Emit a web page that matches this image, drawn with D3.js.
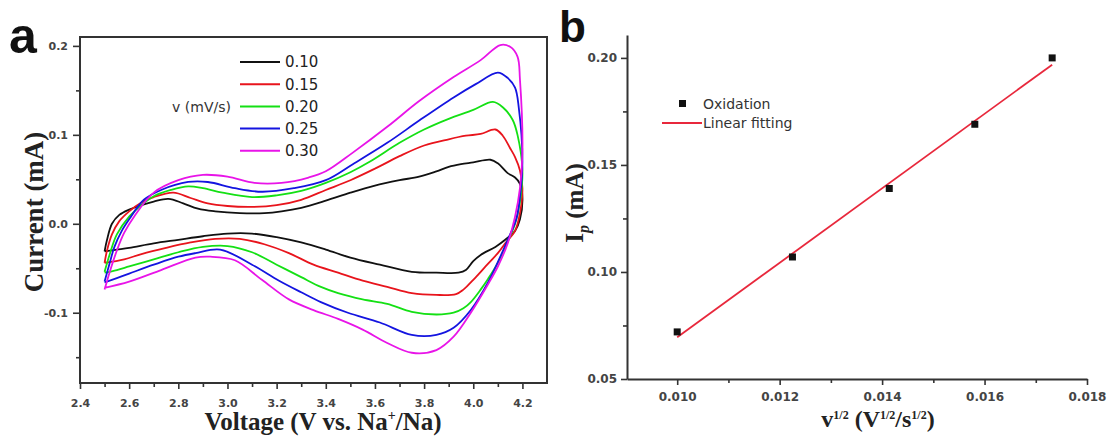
<!DOCTYPE html>
<html>
<head>
<meta charset="utf-8">
<script src="https://cdn.jsdelivr.net/npm/d3@7"></script>
<style>
body{margin:0;background:#fff;}
svg{display:block;}
</style>
</head>
<body>
<svg id="chart" width="1110" height="441"></svg>
<script>
//---Data: panel a, cyclic voltammograms [voltage (V), current (mA)]---
var scanRates = ["0.10","0.15","0.20","0.25","0.30"];
var scanColors = ["#111111","#e8141c","#14e014","#1414e0","#e814e8"];

var cv010 = [[2.50,-0.031],[2.51,-0.018],[2.53,0.000],[2.56,0.010],[2.60,0.016],[2.65,0.021],[2.70,0.025],[2.76,0.028],[2.82,0.023],[2.88,0.017],[2.95,0.014],[3.05,0.012],[3.15,0.012],[3.22,0.014],[3.30,0.018],[3.40,0.026],[3.50,0.035],[3.60,0.043],[3.70,0.049],[3.78,0.053],[3.85,0.059],[3.90,0.064],[3.95,0.067],[4.00,0.069],[4.07,0.072],[4.10,0.068],[4.14,0.057],[4.17,0.052],[4.19,0.045],[4.20,0.030],
  [4.19,0.005],[4.17,-0.008],[4.13,-0.018],[4.09,-0.026],[4.03,-0.035],[4.00,-0.042],[3.97,-0.052],[3.94,-0.055],[3.85,-0.055],[3.75,-0.054],[3.62,-0.046],[3.50,-0.038],[3.40,-0.029],[3.30,-0.021],[3.20,-0.015],[3.10,-0.011],[3.00,-0.011],[2.90,-0.014],[2.80,-0.018],[2.70,-0.022],[2.60,-0.027],[2.55,-0.029],[2.50,-0.031]];

var cv015 = [[2.50,-0.044],[2.51,-0.030],[2.53,-0.012],[2.56,0.003],[2.60,0.014],[2.65,0.024],[2.70,0.030],[2.78,0.035],[2.85,0.029],[2.92,0.023],[3.00,0.020],[3.10,0.019],[3.20,0.021],[3.30,0.027],[3.40,0.038],[3.50,0.049],[3.60,0.062],[3.70,0.076],[3.80,0.088],[3.90,0.095],[3.97,0.099],[4.03,0.101],[4.09,0.106],[4.12,0.099],[4.15,0.085],[4.17,0.075],[4.19,0.060],[4.20,0.040],
  [4.19,0.012],[4.17,-0.008],[4.13,-0.022],[4.10,-0.033],[4.05,-0.048],[4.00,-0.063],[3.96,-0.074],[3.93,-0.079],[3.85,-0.080],[3.75,-0.078],[3.65,-0.071],[3.55,-0.064],[3.45,-0.055],[3.35,-0.046],[3.25,-0.033],[3.15,-0.023],[3.05,-0.017],[2.95,-0.017],[2.85,-0.021],[2.75,-0.027],[2.65,-0.034],[2.58,-0.040],[2.50,-0.044]];

var cv020 = [[2.50,-0.054],[2.52,-0.035],[2.55,-0.012],[2.60,0.008],[2.65,0.021],[2.70,0.031],[2.77,0.038],[2.84,0.042],[2.90,0.040],[2.98,0.035],[3.10,0.030],[3.20,0.032],[3.30,0.037],[3.40,0.046],[3.50,0.058],[3.58,0.070],[3.70,0.091],[3.80,0.106],[3.90,0.118],[4.00,0.128],[4.08,0.137],[4.12,0.131],[4.16,0.117],[4.18,0.100],[4.20,0.060],
  [4.19,0.025],[4.17,0.000],[4.14,-0.020],[4.10,-0.044],[4.06,-0.062],[4.03,-0.074],[3.99,-0.088],[3.96,-0.095],[3.92,-0.100],[3.85,-0.102],[3.75,-0.099],[3.65,-0.090],[3.55,-0.085],[3.45,-0.078],[3.38,-0.071],[3.30,-0.060],[3.20,-0.046],[3.10,-0.032],[3.00,-0.025],[2.90,-0.026],[2.80,-0.032],[2.70,-0.040],[2.60,-0.048],[2.55,-0.052],[2.50,-0.055]];

var cv025 = [[2.50,-0.065],[2.52,-0.045],[2.54,-0.026],[2.57,-0.008],[2.60,0.005],[2.66,0.027],[2.73,0.038],[2.84,0.047],[2.92,0.047],[3.03,0.040],[3.14,0.036],[3.27,0.040],[3.40,0.049],[3.51,0.067],[3.65,0.091],[3.78,0.116],[3.92,0.142],[4.01,0.157],[4.10,0.170],[4.14,0.164],[4.17,0.153],[4.185,0.131],[4.20,0.070],
  [4.19,0.030],[4.175,0.005],[4.15,-0.012],[4.11,-0.037],[4.06,-0.066],[3.99,-0.097],[3.92,-0.117],[3.85,-0.125],[3.75,-0.125],[3.62,-0.111],[3.49,-0.100],[3.38,-0.088],[3.30,-0.077],[3.21,-0.064],[3.10,-0.046],[2.97,-0.029],[2.87,-0.033],[2.80,-0.037],[2.70,-0.046],[2.60,-0.056],[2.55,-0.061],[2.50,-0.066]];

var cv030 = [[2.50,-0.074],[2.52,-0.055],[2.55,-0.030],[2.58,-0.010],[2.62,0.008],[2.70,0.035],[2.80,0.049],[2.90,0.055],[3.00,0.053],[3.11,0.046],[3.22,0.046],[3.33,0.052],[3.40,0.059],[3.51,0.080],[3.65,0.109],[3.78,0.138],[3.92,0.165],[4.03,0.184],[4.11,0.201],[4.15,0.199],[4.18,0.188],[4.19,0.162],[4.20,0.080],
  [4.19,0.040],[4.17,0.008],[4.14,-0.022],[4.10,-0.048],[4.06,-0.068],[3.99,-0.100],[3.92,-0.127],[3.85,-0.142],[3.75,-0.145],[3.65,-0.134],[3.55,-0.119],[3.45,-0.107],[3.35,-0.097],[3.25,-0.085],[3.14,-0.063],[3.03,-0.041],[2.93,-0.037],[2.87,-0.038],[2.73,-0.052],[2.60,-0.065],[2.50,-0.072]];

var cvCurves = [cv010, cv015, cv020, cv025, cv030];

//Tick values panel a
var aXMajor = [2.4,2.6,2.8,3.0,3.2,3.4,3.6,3.8,4.0,4.2];
var aXMinor = [2.5,2.7,2.9,3.1,3.3,3.5,3.7,3.9,4.1];
var aYMajor = [-0.1,0.0,0.1,0.2];
var aYMinor = [-0.15,-0.05,0.05,0.15];

//---Data: panel b, peak current vs sqrt(scan rate)---
var sqrtRate = [0.0100,0.01225,0.01414,0.01581,0.01732];
var peakCurrent = [0.072,0.107,0.139,0.169,0.200];

//Tick values panel b
var bXMajor = [0.010,0.012,0.014,0.016,0.018];
var bXMinor = [0.011,0.013,0.015,0.017];
var bYMajor = [0.05,0.10,0.15,0.20];
var bYMinor = [0.075,0.125,0.175];

//---Setup---
var svg = d3.select("#chart");
var axisColor = "#333";
var tickFont = "'DejaVu Sans', sans-serif";
var serifFont = "'Liberation Serif', 'Times New Roman', serif";

//styleAxis: common tick styling
function styleAxis(g, size){
  g.selectAll("path.domain").attr("stroke", axisColor).attr("stroke-width", 2);
  g.selectAll(".tick line").attr("stroke", axisColor).attr("stroke-width", 1.6);
  g.selectAll(".tick text").attr("fill", "#444").style("font-family", tickFont)
    .style("font-weight", "bold").style("font-size", size + "px");
}

//=============== Panel a ===============
var ax = d3.scaleLinear().domain([2.4, 4.3]).range([80, 547]);
var ay = d3.scaleLinear().domain([-0.179, 0.21]).range([383, 37]);

//bottom axis
svg.append("g").attr("transform", "translate(0,383)")
  .call(d3.axisBottom(ax).tickValues(aXMinor).tickFormat("").tickSize(4).tickSizeOuter(0))
  .call(function(g){ g.select(".domain").remove(); styleAxis(g, 11); });
svg.append("g").attr("transform", "translate(0,383)")
  .call(d3.axisBottom(ax).tickValues(aXMajor).tickFormat(function(d){return d.toFixed(1);}).tickSize(6).tickPadding(10).tickSizeOuter(0))
  .call(function(g){ g.select(".domain").remove(); styleAxis(g, 11); });

//left axis
svg.append("g").attr("transform", "translate(80,0)")
  .call(d3.axisLeft(ay).tickValues(aYMinor).tickFormat("").tickSize(4).tickSizeOuter(0))
  .call(function(g){ g.select(".domain").remove(); styleAxis(g, 11); });
svg.append("g").attr("transform", "translate(80,0)")
  .call(d3.axisLeft(ay).tickValues(aYMajor).tickFormat(function(d){return d.toFixed(1);}).tickSize(7).tickPadding(5).tickSizeOuter(0))
  .call(function(g){ g.select(".domain").remove(); styleAxis(g, 11); });

//curves
var cvLine = d3.line()
  .x(function(d){return ax(d[0]);})
  .y(function(d){return ay(d[1]);})
  .curve(d3.curveCatmullRom.alpha(0.5));

svg.append("g").selectAll("path").data(cvCurves).enter().append("path")
  .attr("d", cvLine)
  .attr("fill", "none")
  .attr("stroke", function(d,i){return scanColors[i];})
  .attr("stroke-width", 1.8)
  .attr("stroke-linejoin", "round");

//frame
svg.append("rect").attr("x", ax(2.4)).attr("y", ay(0.21))
  .attr("width", ax(4.3) - ax(2.4)).attr("height", ay(-0.179) - ay(0.21))
  .attr("fill", "none").attr("stroke", axisColor).attr("stroke-width", 2);

//legend a
var legA = svg.append("g").selectAll("g").data(scanRates).enter().append("g")
  .attr("transform", function(d,i){return "translate(240," + (62 + i*22.2) + ")";});
legA.append("line").attr("x1", 0).attr("x2", 40)
  .attr("stroke", function(d,i){return scanColors[i];}).attr("stroke-width", 2);
legA.append("text").attr("x", 45).attr("dy", "0.36em").text(function(d){return d;})
  .style("font-family", tickFont).style("font-size", "15px").attr("fill", "#222");
svg.append("text").attr("x", 231).attr("y", 107).attr("dy", "0.36em")
  .attr("text-anchor", "end").text("v (mV/s)")
  .style("font-family", tickFont).style("font-size", "14px").attr("fill", "#333");

//axis labels a
var xlabA = svg.append("text").attr("x", 323).attr("y", 430).attr("text-anchor", "middle")
  .style("font-family", serifFont).style("font-weight", "bold").style("font-size", "25px").attr("fill", "#222");
xlabA.append("tspan").text("Voltage (V vs. Na");
xlabA.append("tspan").attr("dy", -10).style("font-size", "14px").text("+");
xlabA.append("tspan").attr("dy", 10).text("/Na)");

svg.append("text").attr("transform", "translate(43,212) rotate(-90)").attr("text-anchor", "middle")
  .style("font-family", serifFont).style("font-weight", "bold").style("font-size", "27px").attr("fill", "#222")
  .text("Current (mA)");

svg.append("text").attr("x", 9).attr("y", 53).text("a")
  .style("font-family", "'Liberation Sans', Arial, sans-serif").style("font-weight", "bold").style("font-size", "50px").attr("fill", "#111");

//=============== Panel b ===============
var bx = d3.scaleLinear().domain([0.00902, 0.018]).range([627, 1087]);
var by = d3.scaleLinear().domain([0.05, 0.2107]).range([379, 35]);

svg.append("g").attr("transform", "translate(0,379)")
  .call(d3.axisBottom(bx).tickValues(bXMinor).tickFormat("").tickSize(4).tickSizeOuter(0))
  .call(function(g){ g.select(".domain").remove(); styleAxis(g, 12); });
svg.append("g").attr("transform", "translate(0,379)")
  .call(d3.axisBottom(bx).tickValues(bXMajor).tickFormat(function(d){return d.toFixed(3);}).tickSize(6).tickPadding(7).tickSizeOuter(0))
  .call(function(g){ styleAxis(g, 12); });

svg.append("g").attr("transform", "translate(627,0)")
  .call(d3.axisLeft(by).tickValues(bYMinor).tickFormat("").tickSize(4).tickSizeOuter(0))
  .call(function(g){ g.select(".domain").remove(); styleAxis(g, 12); });
svg.append("g").attr("transform", "translate(627,0)")
  .call(d3.axisLeft(by).tickValues(bYMajor).tickFormat(function(d){return d.toFixed(2);}).tickSize(6).tickPadding(4).tickSizeOuter(0))
  .call(function(g){ styleAxis(g, 12); });

//linear fit (least squares on the points)
var mx = d3.mean(sqrtRate), my = d3.mean(peakCurrent);
var sxy = d3.sum(sqrtRate, function(x,i){return (x-mx)*(peakCurrent[i]-my);});
var sxx = d3.sum(sqrtRate, function(x){return (x-mx)*(x-mx);});
var slope = sxy/sxx, intercept = my - slope*mx;
var fitX = d3.extent(sqrtRate);

svg.append("path")
  .attr("d", d3.line().x(function(d){return bx(d);}).y(function(d){return by(intercept + slope*d);})(fitX))
  .attr("stroke", "#e8283c").attr("stroke-width", 1.8).attr("fill", "none");

svg.append("g").selectAll("rect").data(sqrtRate).enter().append("rect")
  .attr("x", function(d){return bx(d) - 3.5;})
  .attr("y", function(d,i){return by(peakCurrent[i]) - 3.5;})
  .attr("width", 7).attr("height", 7).attr("fill", "#111");

//legend b
svg.append("rect").attr("x", 679).attr("y", 100).attr("width", 7).attr("height", 7).attr("fill", "#111");
svg.append("text").attr("x", 703).attr("y", 103.5).attr("dy", "0.36em").text("Oxidation")
  .style("font-family", tickFont).style("font-size", "14px").attr("fill", "#333");
svg.append("line").attr("x1", 662).attr("x2", 702).attr("y1", 123).attr("y2", 123)
  .attr("stroke", "#e8283c").attr("stroke-width", 2);
svg.append("text").attr("x", 703).attr("y", 123).attr("dy", "0.36em").text("Linear fitting")
  .style("font-family", tickFont).style("font-size", "14px").attr("fill", "#333");

//axis labels b
var xlabB = svg.append("text").attr("x", 878).attr("y", 427).attr("text-anchor", "middle")
  .style("font-family", serifFont).style("font-weight", "bold").style("font-size", "24px").attr("fill", "#222");
xlabB.append("tspan").text("v");
xlabB.append("tspan").attr("dy", -8).style("font-size", "12px").text("1/2");
xlabB.append("tspan").attr("dy", 8).text(" (V");
xlabB.append("tspan").attr("dy", -8).style("font-size", "12px").text("1/2");
xlabB.append("tspan").attr("dy", 8).text("/s");
xlabB.append("tspan").attr("dy", -8).style("font-size", "12px").text("1/2");
xlabB.append("tspan").attr("dy", 8).text(")");

var ylabB = svg.append("text").attr("transform", "translate(583,203) rotate(-90)").attr("text-anchor", "middle")
  .style("font-family", serifFont).style("font-weight", "bold").style("font-size", "25px").attr("fill", "#222");
ylabB.append("tspan").text("I");
ylabB.append("tspan").attr("dy", 6).style("font-size", "16px").style("font-style", "italic").text("p");
ylabB.append("tspan").attr("dy", -6).text(" (mA)");

svg.append("text").attr("x", 559).attr("y", 42).text("b")
  .style("font-family", "'Liberation Sans', Arial, sans-serif").style("font-weight", "bold").style("font-size", "44px").attr("fill", "#111");
</script>
</body>
</html>
